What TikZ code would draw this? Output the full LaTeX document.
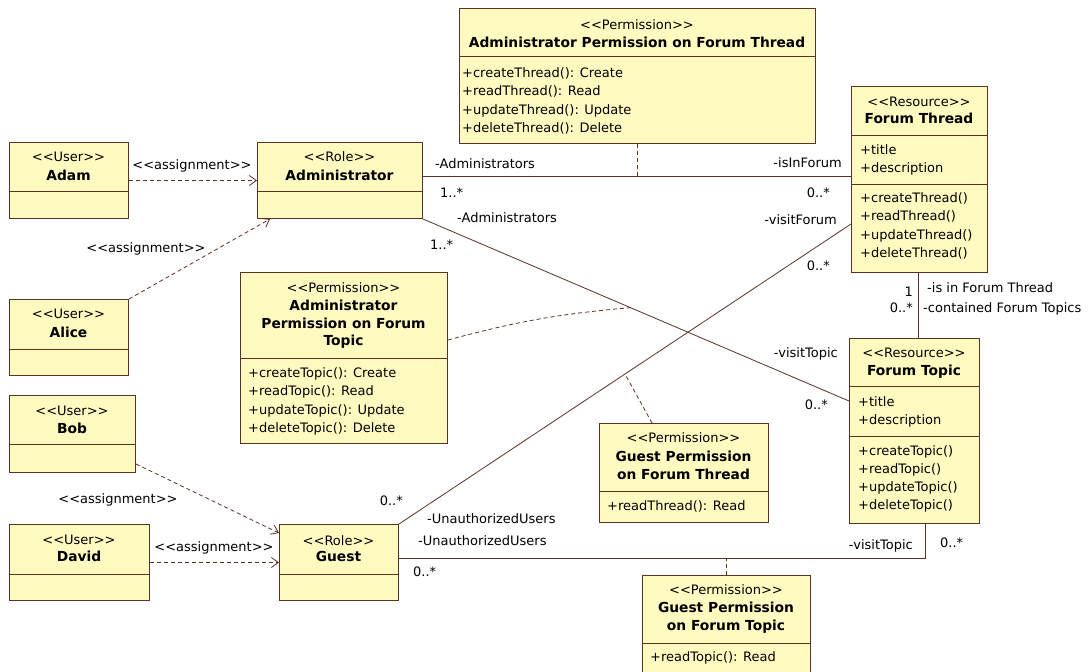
\documentclass[tikz,border=0pt]{standalone}
\usepackage{fontspec}
\setmainfont{DejaVu Sans}
\usetikzlibrary{arrows.meta,calc}

\definecolor{clsfill}{RGB}{255,251,192}
\definecolor{clsedge}{RGB}{92,50,38}
\definecolor{wire}{RGB}{92,50,38}

% guillemet-style stereotype written as two angle brackets
\newcommand\stype[1]{<{}<#1>{}>}

\tikzset{
  clsbox/.style={draw=clsedge, fill=clsfill, line width=1pt, inner sep=0pt, anchor=north west},
  sep/.style={draw=clsedge, line width=1pt},
  txt/.style={inner sep=0pt, font=\fontsize{13}{15}\selectfont, text=black},
  ttl/.style={inner sep=0pt, font=\fontsize{13.8}{15}\selectfont\bfseries, text=black},
  lblw/.style={txt, anchor=base west},
  lble/.style={txt, anchor=base east},
  lblc/.style={txt, anchor=base},
  assoc/.style={draw=wire, line width=0.8pt},
  dep/.style={draw=wire, line width=0.8pt, dash pattern=on 4pt off 3pt,
              -{Straight Barb[length=7pt,width=10pt]}},
  aclink/.style={draw=wire, line width=0.8pt, dash pattern=on 4pt off 3pt},
}

% class frame: name, left, top, right, bottom, compartment dividers
\newcommand\classbox[6]{%
  \node[clsbox, minimum width={(#4-#2)*1pt}, minimum height={(#5-#3)*1pt}] (#1) at (#2,#3) {};
  \foreach \dy in {#6} \draw[sep] (#2,\dy) -- (#4,\dy);
}
% stacked text lines: name, style, anchor, x, first line centre, line step, items
\newcommand\tlines[7]{%
  \foreach \itm [count=\i from 0] in {#7}
    \node[#2, anchor=#3] (#1-\i) at (#4, #5+4.5+\i*#6) {\itm};
}

\begin{document}
\begin{tikzpicture}[x=1pt,y=-1pt]
\fill[white] (0,0) rectangle (1090,672);
\useasboundingbox (0,0) rectangle (1090,672);

% ---------- users ----------
\classbox{adam}{9}{142}{128}{218}{191}
\tlines{adam-s}{txt}{base}{68.5}{157}{0}{\stype{User}}
\tlines{adam-n}{ttl}{base}{68.5}{176}{0}{Adam}

\classbox{alice}{9}{299}{128}{375}{349}
\tlines{alice-s}{txt}{base}{68.5}{314}{0}{\stype{User}}
\tlines{alice-n}{ttl}{base}{68.5}{333}{0}{Alice}

\classbox{bob}{9}{395}{135}{472}{444}
\tlines{bob-s}{txt}{base}{72}{411}{0}{\stype{User}}
\tlines{bob-n}{ttl}{base}{72}{429}{0}{Bob}

\classbox{david}{9}{524}{149}{600}{574}
\tlines{david-s}{txt}{base}{79}{540}{0}{\stype{User}}
\tlines{david-n}{ttl}{base}{79}{557}{0}{David}

% ---------- roles ----------
\classbox{admin}{257}{142}{422}{218}{191}
\tlines{admin-s}{txt}{base}{339.5}{157}{0}{\stype{Role}}
\tlines{admin-n}{ttl}{base}{339.5}{176}{0}{Administrator}

\classbox{guest}{279}{524}{398}{600}{574}
\tlines{guest-s}{txt}{base}{338.5}{541}{0}{\stype{Role}}
\tlines{guest-n}{ttl}{base}{338.5}{557}{0}{Guest}

% ---------- resources ----------
\classbox{fthread}{851}{86}{987}{272}{135,184}
\tlines{fthread-s}{txt}{base}{919}{102}{0}{\stype{Resource}}
\tlines{fthread-n}{ttl}{base}{919}{119}{0}{Forum Thread}
\tlines{fthread-a}{txt}{base west}{860}{150}{18}{+title,+description}
\tlines{fthread-o}{txt}{base west}{860}{198}{18.3}{+createThread(),+readThread(),+updateThread(),+deleteThread()}

\classbox{ftopic}{849}{338}{979}{523}{386,436}
\tlines{ftopic-s}{txt}{base}{914}{353}{0}{\stype{Resource}}
\tlines{ftopic-n}{ttl}{base}{914}{371}{0}{Forum Topic}
\tlines{ftopic-a}{txt}{base west}{858}{402}{18}{+title,+description}
\tlines{ftopic-o}{txt}{base west}{858}{451}{18}{+createTopic(),+readTopic(),+updateTopic(),+deleteTopic()}

% ---------- permissions ----------
\classbox{apthread}{459}{8}{815}{143}{56}
\tlines{apthread-s}{txt}{base}{637}{25}{0}{\stype{Permission}}
\tlines{apthread-n}{ttl}{base}{637}{43}{0}{Administrator Permission on Forum Thread}
\tlines{apthread-o}{txt}{base west}{462}{73}{18.3}{+createThread(): Create,+readThread(): Read,+updateThread(): Update,+deleteThread(): Delete}

\classbox{aptopic}{240}{272}{447}{443}{358}
\tlines{aptopic-s}{txt}{base}{343.5}{288}{0}{\stype{Permission}}
\tlines{aptopic-n}{ttl}{base}{343.5}{306}{17.5}{Administrator,Permission on Forum,Topic}
\tlines{aptopic-o}{txt}{base west}{248}{373}{18.3}{+createTopic(): Create,+readTopic(): Read,+updateTopic(): Update,+deleteTopic(): Delete}

\classbox{gpthread}{599}{423}{768}{522}{491}
\tlines{gpthread-s}{txt}{base}{683.5}{438}{0}{\stype{Permission}}
\tlines{gpthread-n}{ttl}{base}{683.5}{457}{18}{Guest Permission,on Forum Thread}
\tlines{gpthread-o}{txt}{base west}{607}{506}{0}{+readThread(): Read}

\classbox{gptopic}{642}{575}{810}{682}{643}
\tlines{gptopic-s}{txt}{base}{726}{590}{0}{\stype{Permission}}
\tlines{gptopic-n}{ttl}{base}{726}{608}{18}{Guest Permission,on Forum Topic}
\tlines{gptopic-o}{txt}{base west}{650}{657}{0}{+readTopic(): Read}

% ---------- role assignments ----------
\draw[dep] (adam.east) -- (admin.west);
\draw[dep] (alice.north east) -- ($(admin.south west)+(13,0)$);
\draw[dep] ($(bob.south east)+(0,-9)$) -- ($(guest.north west)+(0,9)$);
\draw[dep] (david.east) -- (guest.west);

\node[lblc] (asg-adam)  at (192,169.5) {\stype{assignment}};
\node[lblc] (asg-alice) at (146,252.5) {\stype{assignment}};
\node[lblc] (asg-bob)   at (118,503.5) {\stype{assignment}};
\node[lblc] (asg-david) at (214,551.5) {\stype{assignment}};

% ---------- associations ----------
% Administrator -- Forum Thread
\coordinate (a1) at ($(admin.north east)+(0,34)$);
\coordinate (b1) at ($(fthread.north west)+(0,90)$);
\draw[assoc] (a1) -- (b1);
\coordinate (m1) at (apthread.south |- a1);
\draw[aclink] (apthread.south) -- (m1);

% Administrator -- Forum Topic
\coordinate (b2) at ($(ftopic.north west)+(0,63)$);
\draw[assoc] (admin.south east) -- (b2);
\coordinate (m2) at ($(admin.south east)!0.487!(b2)$);
\draw[aclink] ($(aptopic.north east)+(0,68)$) to[bend left=5] (m2);

% Guest -- Forum Thread
\coordinate (b3) at ($(fthread.north west)+(0,138)$);
\draw[assoc] (guest.north east) -- (b3);
\coordinate (m3) at ($(guest.north east)!0.5!(b3)$);
\draw[aclink] ($(gpthread.north west)+(53,0)$) -- (m3);

% Guest -- Forum Topic
\coordinate (a4) at ($(guest.north east)+(0,34)$);
\coordinate (b4) at ($(ftopic.south west)+(76,0)$);
\coordinate (c4) at (b4 |- a4);
\draw[assoc] (a4) -- (c4) -- (b4);
\coordinate (m4) at (gptopic.north |- a4);
\draw[aclink] (gptopic.north) -- (m4);

% Forum Thread -- Forum Topic
\draw[assoc] ($(fthread.south west)+(67,0)$) -- ($(ftopic.north west)+(69,0)$);

% ---------- role names and multiplicities ----------
\node[lblw] (r-adm1) at (435,168.5) {-Administrators};
\node[lblw] (m-adm1) at (440,197.5) {1..*};
\node[lble] (r-thr1) at (842,167.5) {-isInForum};
\node[lble] (m-thr1) at (830,197.5) {0..*};

\node[lblw] (r-adm2) at (457,222.5) {-Administrators};
\node[lblw] (m-adm2) at (430,249.5) {1..*};
\node[lble] (r-top2) at (838,357.5) {-visitTopic};
\node[lble] (m-top2) at (828,409.5) {0..*};

\node[lble] (m-gst3) at (403,505.5) {0..*};
\node[lblw] (r-gst3) at (427,523.5) {-UnauthorizedUsers};
\node[lble] (r-thr3) at (837,224.5) {-visitForum};
\node[lble] (m-thr3) at (830,270.5) {0..*};

\node[lblw] (r-gst4) at (418,545.5) {-UnauthorizedUsers};
\node[lblw] (m-gst4) at (413,576.5) {0..*};
\node[lble] (r-top4) at (913,549.5) {-visitTopic};
\node[lblw] (m-top4) at (940,547.5) {0..*};

\node[lble] (m-thr5) at (913,296.5) {1};
\node[lblw] (r-thr5) at (927,292.5) {-is in Forum Thread};
\node[lble] (m-top5) at (913,312.5) {0..*};
\node[lblw] (r-top5) at (923,312.5) {-contained Forum Topics};
\end{tikzpicture}
\end{document}
